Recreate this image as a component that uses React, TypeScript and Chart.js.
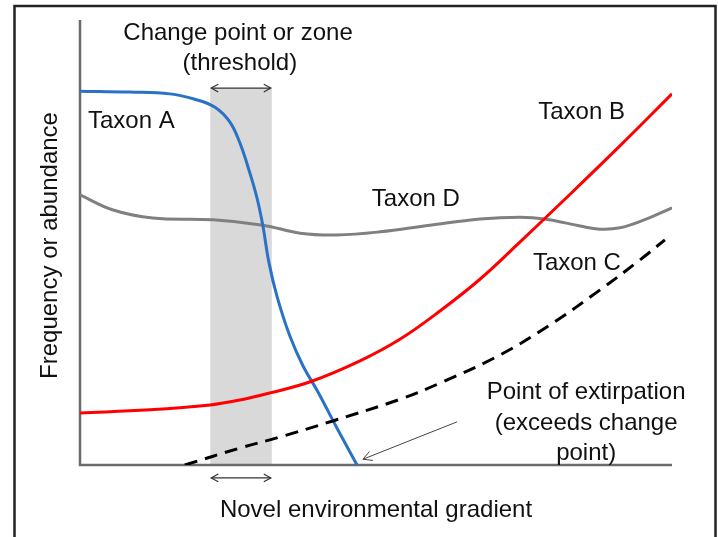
import React, { useEffect, useRef } from "react";
import { Chart, registerables } from "chart.js";

Chart.register(...registerables);

// Conceptual gradient position (0-100) and response (0-100)
const taxonAX = [0, 8.4, 15.2, 19.4, 22.8, 25.3, 27.0, 28.7, 29.9, 30.9, 31.9, 33.3, 35.5, 37.7, 40.2, 43.4, 46.8];
const taxonAY = [84.0, 83.8, 83.4, 82.2, 80.4, 77.1, 72.4, 65.6, 60.0, 53.7, 45.6, 37.8, 28.8, 22.2, 16.4, 8.3, 0];

const taxonBX = [0, 11.8, 22.0, 27.0, 32.1, 38.9, 47.3, 54.1, 60.8, 67.6, 74.3, 81.1, 91.2, 100];
const taxonBY = [11.7, 12.4, 13.5, 14.6, 16.2, 18.7, 23.4, 28.3, 34.6, 41.8, 50.1, 58.7, 71.7, 83.4];

const taxonCX = [17.7, 27.0, 33.8, 42.7, 54.1, 61.3, 70.9, 79.4, 87.8, 94.6, 98.8];
const taxonCY = [0, 3.8, 6.3, 9.9, 14.8, 18.7, 24.7, 31.5, 39.3, 46.1, 50.6];

const taxonDX = [0, 5.6, 12.3, 22.5, 30.9, 37.2, 43.4, 50.7, 59.1, 67.6, 74.3, 78.5, 84.5, 87.8, 91.2, 95.3, 100];
const taxonDY = [60.7, 57.3, 55.5, 55.1, 53.9, 52.1, 51.7, 52.4, 53.9, 55.3, 55.7, 55.3, 53.7, 53.0, 53.3, 55.1, 57.8];

// Change zone (threshold) on the gradient
const bandRange = [22.0, 32.4];
const bandTop = 84.7;
const lowerArrowY = -2.9;

// Point-of-extirpation pointer: from [x, y] to [x, y]
const pointerFrom = [63.7, 9.7];
const pointerTo = [47.8, 1.3];

const X_LABEL = "Novel environmental gradient";
const Y_LABEL = "Frequency or abundance";

const labelTexts = [
  "Change point or zone",
  "(threshold)",
  "Taxon A",
  "Taxon B",
  "Taxon D",
  "Taxon C",
  "Point of extirpation",
  "(exceeds change",
  "point)",
];
const labelX = [26.7, 27.0, 1.35, 77.4, 49.3, 76.5, 85.5, 85.5, 85.5];
const labelY = [97.1, 90.3, 77.3, 79.3, 59.8, 45.4, 16.4, 9.4, 2.7];
const labelAlign = ["center", "center", "left", "left", "left", "left", "center", "center", "center"];

const toPoints = (xs: number[], ys: number[]) => xs.map((x, i) => ({ x, y: ys[i] }));

const FONT = '24px "Liberation Sans", Arial, sans-serif';

function drawHead(ctx: CanvasRenderingContext2D, tx: number, ty: number, ang: number, len: number) {
  const spread = 0.5;
  ctx.beginPath();
  ctx.moveTo(tx + len * Math.cos(ang + spread), ty + len * Math.sin(ang + spread));
  ctx.lineTo(tx, ty);
  ctx.lineTo(tx + len * Math.cos(ang - spread), ty + len * Math.sin(ang - spread));
  ctx.stroke();
}

function drawDoubleArrow(ctx: CanvasRenderingContext2D, xa: number, xb: number, y: number) {
  ctx.beginPath();
  ctx.moveTo(xa, y);
  ctx.lineTo(xb, y);
  ctx.stroke();
  drawHead(ctx, xa, y, 0, 8);
  drawHead(ctx, xb, y, Math.PI, 8);
}

const overlay = {
  id: "overlay",
  beforeDatasetsDraw(chart: any) {
    const { ctx, scales, chartArea } = chart;
    const x = scales.x;
    const y = scales.y;
    ctx.save();
    // frame
    ctx.strokeStyle = "#222222";
    ctx.lineWidth = 2.5;
    ctx.beginPath();
    ctx.moveTo(14.5, 540);
    ctx.lineTo(14.5, 6);
    ctx.lineTo(715.5, 6);
    ctx.lineTo(715.5, 540);
    ctx.stroke();
    // band
    const x0 = x.getPixelForValue(bandRange[0]);
    const x1 = x.getPixelForValue(bandRange[1]);
    const yt = y.getPixelForValue(bandTop);
    const yb = y.getPixelForValue(0);
    ctx.fillStyle = "#d9d9d9";
    ctx.fillRect(x0, yt, x1 - x0, yb - yt);
    // axes
    ctx.strokeStyle = "#6b6b6b";
    ctx.lineWidth = 2.5;
    ctx.beginPath();
    ctx.moveTo(chartArea.left, chartArea.top);
    ctx.lineTo(chartArea.left, chartArea.bottom);
    ctx.lineTo(chartArea.right, chartArea.bottom);
    ctx.stroke();
    ctx.restore();
  },
  afterDatasetsDraw(chart: any) {
    const { ctx, scales, chartArea } = chart;
    const x = scales.x;
    const y = scales.y;
    ctx.save();
    // threshold arrows
    ctx.strokeStyle = "#333333";
    ctx.lineWidth = 1.2;
    const x0 = x.getPixelForValue(bandRange[0]);
    const x1 = x.getPixelForValue(bandRange[1]);
    drawDoubleArrow(ctx, x0 + 1, x1 - 1, y.getPixelForValue(bandTop));
    drawDoubleArrow(ctx, x0 + 1, x1 - 1, y.getPixelForValue(lowerArrowY));
    // pointer
    const px0 = x.getPixelForValue(pointerFrom[0]);
    const py0 = y.getPixelForValue(pointerFrom[1]);
    const px1 = x.getPixelForValue(pointerTo[0]);
    const py1 = y.getPixelForValue(pointerTo[1]);
    ctx.strokeStyle = "#444444";
    ctx.lineWidth = 1;
    ctx.beginPath();
    ctx.moveTo(px0, py0);
    ctx.lineTo(px1, py1);
    ctx.stroke();
    drawHead(ctx, px1, py1, Math.atan2(py0 - py1, px0 - px1), 10);
    // labels
    ctx.fillStyle = "#111111";
    ctx.font = FONT;
    ctx.textBaseline = "middle";
    labelTexts.forEach((t, i) => {
      ctx.textAlign = labelAlign[i] as CanvasTextAlign;
      ctx.fillText(t, x.getPixelForValue(labelX[i]), y.getPixelForValue(labelY[i]));
    });
    // axis titles
    ctx.textAlign = "center";
    ctx.fillText(X_LABEL, (chartArea.left + chartArea.right) / 2, chartArea.bottom + 45);
    ctx.save();
    ctx.translate(chartArea.left - 30, (chartArea.top + chartArea.bottom) / 2 + 3);
    ctx.rotate(-Math.PI / 2);
    ctx.fillText(Y_LABEL, 0, 0);
    ctx.restore();
    ctx.restore();
  },
};

export default function App() {
  const ref = useRef<HTMLCanvasElement | null>(null);
  useEffect(() => {
    if (!ref.current) return;
    const common = { borderWidth: 3, pointRadius: 0, tension: 0.4 };
    const chart = new Chart(ref.current, {
      type: "line",
      data: {
        datasets: [
          {
            label: "Taxon C",
            data: toPoints(taxonCX, taxonCY),
            borderColor: "#000000",
            borderDash: [13, 8],
            ...common,
          },
          {
            label: "Taxon B",
            data: toPoints(taxonBX, taxonBY),
            borderColor: "#ff0000",
            ...common,
          },
          {
            label: "Taxon A",
            data: toPoints(taxonAX, taxonAY),
            borderColor: "#2a72c6",
            ...common,
          },
          {
            label: "Taxon D",
            data: toPoints(taxonDX, taxonDY),
            borderColor: "#808080",
            ...common,
          },
        ],
      },
      options: {
        animation: false,
        responsive: true,
        maintainAspectRatio: false,
        layout: { padding: { left: 80, right: 46, top: 20, bottom: 72 } },
        plugins: { legend: { display: false }, tooltip: { enabled: false } },
        scales: {
          x: { type: "linear", min: 0, max: 100, display: false },
          y: { type: "linear", min: 0, max: 100, display: false },
        },
      },
      plugins: [overlay],
    });
    return () => chart.destroy();
  }, []);
  return (
    <div style={{ position: "fixed", left: 0, top: 0, width: 718, height: 537, background: "#ffffff" }}>
      <canvas ref={ref} />
    </div>
  );
}
